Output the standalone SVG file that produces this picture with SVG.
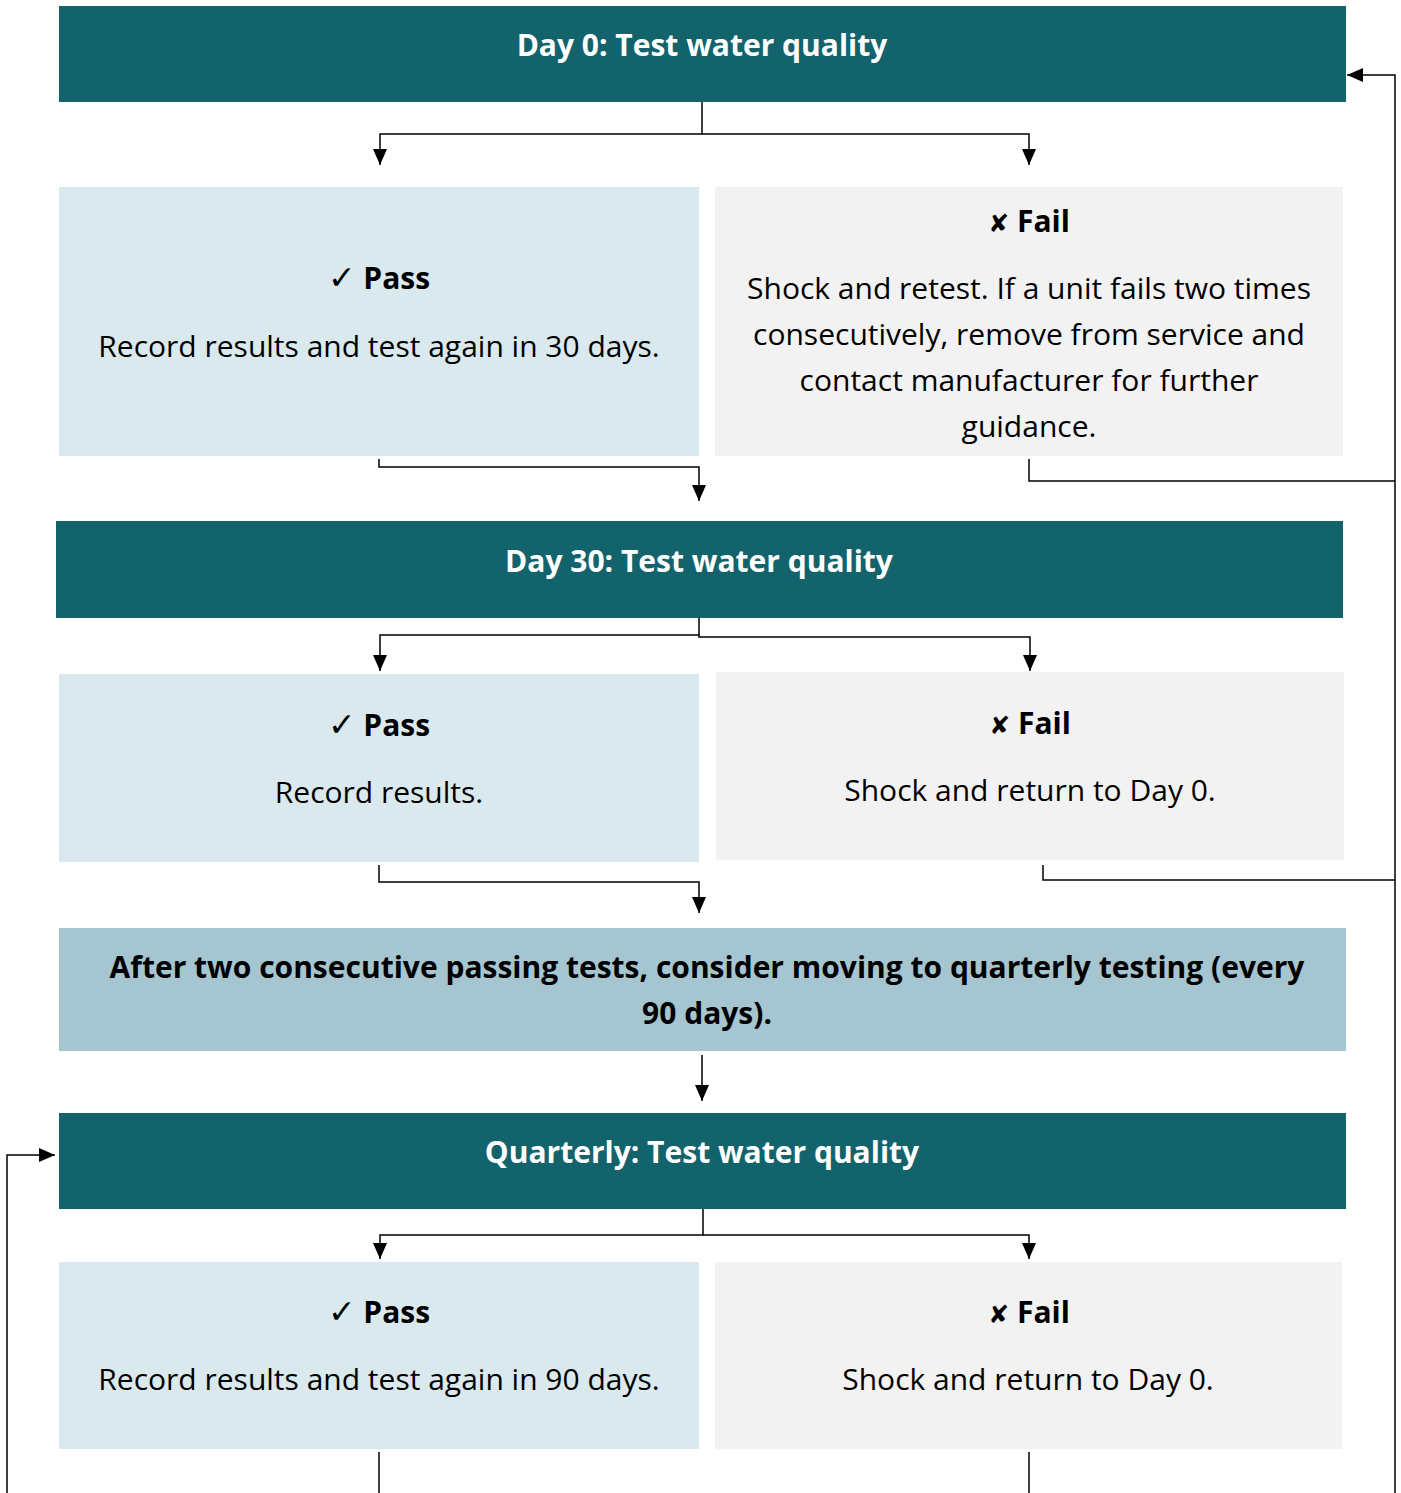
<svg xmlns="http://www.w3.org/2000/svg" width="1401" height="1493" viewBox="0 0 1401 1493">
<defs>
<marker id="ah" markerWidth="16" markerHeight="14" refX="16" refY="7" orient="auto" markerUnits="userSpaceOnUse" viewBox="0 0 16 14">
<path d="M0,0 L16,7 L0,14 Z" fill="#000"/>
</marker>
<style>
.hdr{fill:#13636d}
.pass{fill:#d9e9ed}
.fail{fill:#f2f2f2}
.note{fill:#a5c6d0}
.ht{font-family:"Open Sans","Noto Sans",sans-serif;font-weight:bold;font-size:30px;fill:#fff;text-anchor:middle}
.bt{font-family:"Open Sans","Noto Sans",sans-serif;font-size:30px;fill:#000;text-anchor:middle}
.lt{font-family:"Open Sans","Noto Sans",sans-serif;font-weight:bold;font-size:30px;fill:#000;text-anchor:middle}
.sym{font-family:"DejaVu Sans",sans-serif;font-weight:bold}
.c{fill:none;stroke:#000;stroke-width:1.5}
.ca{fill:none;stroke:#000;stroke-width:1.5;marker-end:url(#ah)}
</style>
</defs>
<rect width="1401" height="1493" fill="#fff"/>
<g id="connectors">
<path class="ca" d="M702,102 V134 H380 V165"/>
<path class="ca" d="M702,134 H1029 V165"/>
<path class="ca" d="M379,459 V467 H699 V501"/>
<path class="c" d="M1029,459 V481 H1395"/>
<path class="ca" d="M1395,1493 V75 H1347"/>
<path class="ca" d="M699,618 V635 H380 V671"/>
<path class="ca" d="M699,635 V637 H1030 V671"/>
<path class="ca" d="M379,865 V882 H699 V913"/>
<path class="c" d="M1043,865 V880 H1395"/>
<path class="ca" d="M702,1055 V1101"/>
<path class="ca" d="M703,1209 V1235 H380 V1259"/>
<path class="ca" d="M703,1235 H1029 V1259"/>
<path class="ca" d="M7,1493 V1155 H55"/>
<path class="c" d="M379,1452 V1493"/>
<path class="c" d="M1029,1452 V1493"/>
</g>
<g id="day0">
<rect class="hdr" x="59" y="6" width="1287" height="96"/>
<text class="ht" x="702" y="56">Day 0: Test water quality</text>
</g>
<g id="pass1">
<rect class="pass" x="59" y="187" width="640" height="269"/>
<text class="lt" x="379" y="289"><tspan class="sym" font-size="33">✓</tspan> Pass</text>
<text class="bt" x="379" y="357">Record results and test again in 30 days.</text>
</g>
<g id="fail1">
<rect class="fail" x="715" y="187" width="628" height="269"/>
<text class="lt" x="1029" y="232"><tspan class="sym" font-size="25">✘</tspan> Fail</text>
<text class="bt" x="1029" y="299">Shock and retest. If a unit fails two times</text>
<text class="bt" x="1029" y="345">consecutively, remove from service and</text>
<text class="bt" x="1029" y="391">contact manufacturer for further</text>
<text class="bt" x="1029" y="437">guidance.</text>
</g>
<g id="day30">
<rect class="hdr" x="56" y="521" width="1287" height="97"/>
<text class="ht" x="699" y="572">Day 30: Test water quality</text>
</g>
<g id="pass2">
<rect class="pass" x="59" y="674" width="640" height="188"/>
<text class="lt" x="379" y="736"><tspan class="sym" font-size="33">✓</tspan> Pass</text>
<text class="bt" x="379" y="803">Record results.</text>
</g>
<g id="fail2">
<rect class="fail" x="716" y="672" width="628" height="188"/>
<text class="lt" x="1030" y="734"><tspan class="sym" font-size="25">✘</tspan> Fail</text>
<text class="bt" x="1030" y="801">Shock and return to Day 0.</text>
</g>
<g id="note">
<rect class="note" x="59" y="928" width="1287" height="123"/>
<text class="lt" x="707" y="978">After two consecutive passing tests, consider moving to quarterly testing (every</text>
<text class="lt" x="707" y="1024">90 days).</text>
</g>
<g id="quarterly">
<rect class="hdr" x="59" y="1113" width="1287" height="96"/>
<text class="ht" x="702" y="1163">Quarterly: Test water quality</text>
</g>
<g id="pass3">
<rect class="pass" x="59" y="1262" width="640" height="187"/>
<text class="lt" x="379" y="1323"><tspan class="sym" font-size="33">✓</tspan> Pass</text>
<text class="bt" x="379" y="1390">Record results and test again in 90 days.</text>
</g>
<g id="fail3">
<rect class="fail" x="715" y="1262" width="627" height="187"/>
<text class="lt" x="1029" y="1323"><tspan class="sym" font-size="25">✘</tspan> Fail</text>
<text class="bt" x="1028" y="1390">Shock and return to Day 0.</text>
</g>
</svg>
